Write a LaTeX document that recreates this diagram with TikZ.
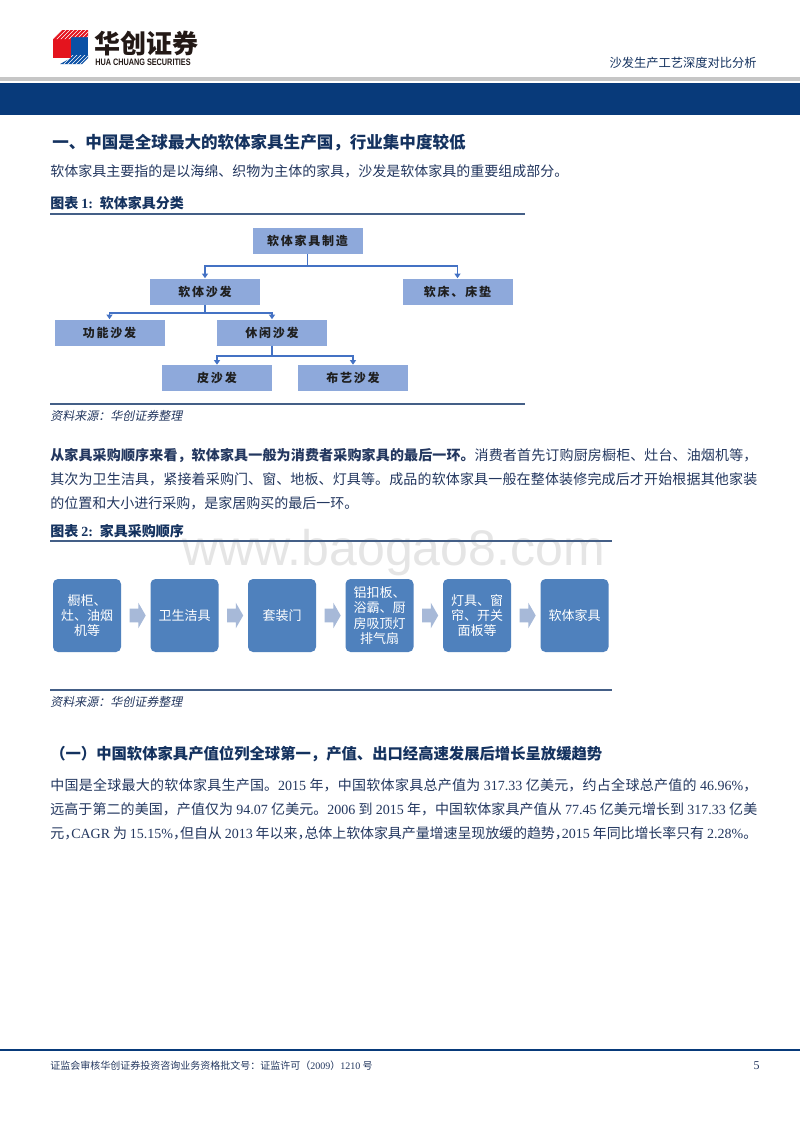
\documentclass[tikz,border=0pt]{standalone}
\usepackage{fontspec}
\setmainfont{Noto Sans CJK SC}
\newfontfamily\tnr{Liberation Serif}
\newfontfamily\wmfont{Liberation Sans}
\newfontfamily\srcfont[FakeSlant=0.2]{Noto Sans CJK SC}
\newfontfamily\orgfont[LetterSpace=15]{Noto Sans CJK SC}
\usetikzlibrary{arrows.meta,shapes.arrows,patterns}
\XeTeXlinebreaklocale "zh"
\XeTeXlinebreakskip=0pt plus 1pt minus 0.3pt

\definecolor{band}{RGB}{8,58,122}
\definecolor{bodyc}{RGB}{35,55,95}
\definecolor{headc}{RGB}{20,50,95}
\definecolor{rulec}{RGB}{68,95,135}
\definecolor{orgfill}{RGB}{142,169,219}
\definecolor{orgln}{RGB}{68,114,196}
\definecolor{flowfill}{RGB}{79,129,189}
\definecolor{flowarr}{RGB}{167,185,216}
\definecolor{wmc}{RGB}{229,229,229}
\definecolor{logored}{RGB}{228,20,30}
\definecolor{logoblue}{RGB}{10,80,165}
\definecolor{logoblack}{RGB}{35,25,22}

\newcommand\tn[1]{{\tnr #1}}
\newcommand\hc{\makebox[0.5em][l]{，}}

\begin{document}
\begin{tikzpicture}[x=0.75pt,y=-0.75pt,>={Triangle[length=3.4pt,width=4.4pt]},
node distance=73.125pt,
txt/.style={anchor=base west,inner sep=0pt,text=bodyc},
para/.style={anchor=north west,inner sep=0pt,text width=530.25pt,align=justify,
  text=bodyc,font=\fontsize{10.5}{18}\selectfont},
rule/.style={draw=rulec,line width=1.1pt},
org node/.style={rectangle,fill=orgfill,minimum width=82.5pt,minimum height=19.5pt,
  inner sep=0pt,text=black!88,font=\orgfont\bfseries\fontsize{9}{10}\selectfont},
org line/.style={->,draw=orgln,line width=1.2pt},
step node/.style={rectangle,rounded corners=3.75pt,fill=flowfill,minimum width=51pt,
  minimum height=54.75pt,inner sep=1pt,align=center,text=white,
  font=\fontsize{9.75}{11.5}\selectfont},
step arrow/.style={single arrow,fill=flowarr,inner xsep=0pt,inner ysep=4.875pt,
  single arrow head extend=4.5pt,single arrow tip angle=120,minimum height=12pt}]

\fill[white] (0,0) rectangle (800,1132);
\useasboundingbox (0,0) rectangle (800,1132);

% header
\fill[logored] (53,39) rectangle (71,58);
\fill[logoblue] (71,37) rectangle (88,55);
\fill[logored] (53,39) -- (62,30) -- (88,30) -- (88,37) -- (71,37) -- (71,39) -- cycle;
\fill[pattern=north east lines,pattern color=white] (53,39) -- (62,30) -- (88,30) -- (88,37) -- (71,37) -- (71,39) -- cycle;
\fill[logoblue] (60,64) -- (71,58) -- (71,55) -- (88,55) -- (88,58) -- (82,64) -- cycle;
\fill[pattern=north east lines,pattern color=white] (60,64) -- (71,58) -- (71,55) -- (88,55) -- (88,58) -- (82,64) -- cycle;
\node[anchor=west,inner sep=0pt,text=logoblack,font=\bfseries\fontsize{19.5}{20}\selectfont] (logo) at (94,44) {华创证券};
\node[anchor=base west,inner sep=0pt,text=logoblack,font=\wmfont\bfseries\fontsize{7}{8}\selectfont] (logoen) at (95,65) {\scalebox{0.78}[1]{HUA CHUANG SECURITIES}};
\node[anchor=base east,inner sep=0pt,text=headc,font=\fontsize{9.2}{10}\selectfont] (title) at (757,67) {沙发生产工艺深度对比分析};
\fill[gray!45] (0,77) rectangle (800,81);
\fill[band] (0,83) rectangle (800,115);

% section 1
\node[txt,text=headc,font=\bfseries\fontsize{12.4}{14}\selectfont] (h1) at (52,148) {一、中国是全球最大的软体家具生产国，行业集中度较低};
\node[txt,font=\fontsize{10.5}{12}\selectfont] (intro) at (50,176) {软体家具主要指的是以海绵、织物为主体的家具，沙发是软体家具的重要组成部分。};

% figure 1
\node[txt,text=headc,font=\bfseries\fontsize{10.5}{12}\selectfont] (cap1) at (50,208) {图表 \tn{1:}\hspace{5pt}软体家具分类};
\draw[rule] (50,214) -- (525,214);

\node[org node] (root) at (307.5,241) {软体家具制造};
\node[org node] (sofa) at (205,291.5) {软体沙发};
\node[org node] (bed) at (457.5,291.5) {软床、床垫};
\node[org node] (func) at (109.5,332.5) {功能沙发};
\node[org node] (leisure) at (272,332.5) {休闲沙发};
\node[org node] (leather) at (217,378) {皮沙发};
\node[org node] (fabric) at (353,378) {布艺沙发};

\draw[org line] (root.south) -- ++(0,11.5) -| (sofa.north);
\draw[org line] (root.south) -- ++(0,11.5) -| (bed.north);
\draw[org line] (sofa.south) -- ++(0,8) -| (func.north);
\draw[org line] (sofa.south) -- ++(0,8) -| (leisure.north);
\draw[org line] (leisure.south) -- ++(0,10) -| (leather.north);
\draw[org line] (leisure.south) -- ++(0,10) -| (fabric.north);

\draw[rule] (50,404) -- (525,404);
\node[txt,font=\srcfont\fontsize{9}{10}\selectfont] (src1) at (50,420) {资料来源：华创证券整理};

% paragraph 2
\node[para] (order) at (50,446.7) {\noindent\rule{0pt}{10pt}{\bfseries 从家具采购顺序来看，软体家具一般为消费者采购家具的最后一环。}消费者首先订购厨房橱柜、灶台、油烟机等，\linebreak 其次为卫生洁具，紧接着采购门、窗、地板、灯具等。成品的软体家具一般在整体装修完成后才开始根据其他家装\linebreak 的位置和大小进行采购，是家居购买的最后一环。};

% figure 2
\node[txt,text=headc,font=\bfseries\fontsize{10.5}{12}\selectfont] (cap2) at (50,536) {图表 \tn{2:}\hspace{5pt}家具采购顺序};
\node[anchor=base west,inner sep=0pt,text=wmc,font=\wmfont\fontsize{37.5}{40}\selectfont] (wm) at (182,565) {www.baogao8.com};
\draw[rule] (50,541) -- (612,541);

\node[step node] (p1) at (87,615.5) {橱柜、\\灶、油烟\\机等};
\node[step node] (p2) [right of=p1] {卫生洁具};
\node[step node] (p3) [right of=p2] {套装门};
\node[step node] (p4) [right of=p3] {铝扣板、\\浴霸、厨\\房吸顶灯\\排气扇};
\node[step node] (p5) [right of=p4] {灯具、窗\\帘、开关\\面板等};
\node[step node] (p6) [right of=p5] {软体家具};

\path (p1) -- node[step arrow] (a1) {} (p2);
\path (p2) -- node[step arrow] (a2) {} (p3);
\path (p3) -- node[step arrow] (a3) {} (p4);
\path (p4) -- node[step arrow] (a4) {} (p5);
\path (p5) -- node[step arrow] (a5) {} (p6);

\draw[rule] (50,690) -- (612,690);
\node[txt,font=\srcfont\fontsize{9}{10}\selectfont] (src2) at (50,706) {资料来源：华创证券整理};

% section 1.1
\node[txt,text=headc,font=\bfseries\fontsize{11.5}{13}\selectfont] (h2) at (50,759) {（一）中国软体家具产值位列全球第一，产值、出口经高速发展后增长呈放缓趋势};
\node[para] (value) at (50,776.7) {\noindent\parfillskip=0pt\rule{0pt}{10pt}中国是全球最大的软体家具生产国。\tn{2015} 年，中国软体家具总产值为 \tn{317.33} 亿美元，约占全球总产值的 \tn{46.96\%}，\linebreak 远高于第二的美国，产值仅为 \tn{94.07} 亿美元。\tn{2006} 到 \tn{2015} 年，中国软体家具产值从 \tn{77.45} 亿美元增长到 \tn{317.33} 亿美\linebreak 元\hc\tn{CAGR} 为 \tn{15.15\%}\hc 但自从 \tn{2013} 年以来\hc 总体上软体家具产量增速呈现放缓的趋势\hc\tn{2015} 年同比增长率只有 \tn{2.28\%}。};

% footer
\draw[draw=band,line width=1.5pt] (0,1050) -- (800,1050);
\node[txt,font=\fontsize{7.5}{9}\selectfont] (foot) at (50,1069) {证监会审核华创证券投资咨询业务资格批文号：证监许可（\tn{2009}）\tn{1210} 号};
\node[anchor=base east,inner sep=0pt,text=bodyc,font=\tnr\fontsize{9}{10}\selectfont] (page) at (760,1069) {5};
\end{tikzpicture}
\end{document}
